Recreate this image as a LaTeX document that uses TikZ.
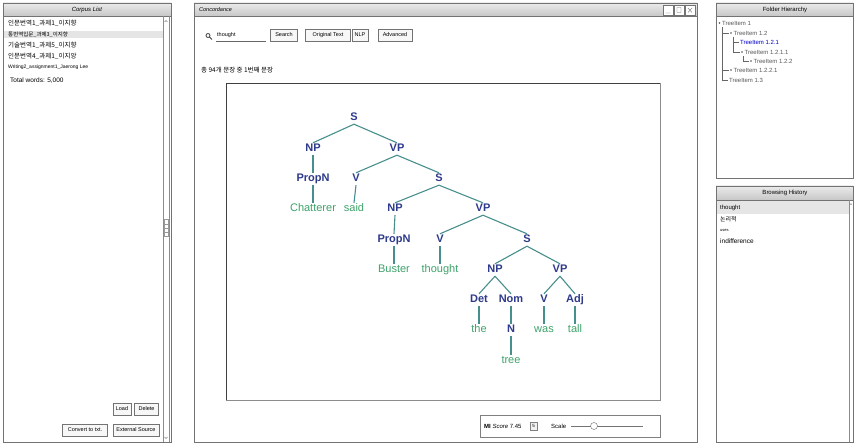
\documentclass[tikz,border=0pt]{standalone}
\usepackage{fontspec}
\setmainfont{Liberation Sans}
\newfontfamily\kr{Noto Sans CJK KR}
\usetikzlibrary{calc}
\definecolor{catblue}{HTML}{2E3A8C}
\definecolor{leafgreen}{HTML}{3FA36B}
\definecolor{branchteal}{HTML}{478F8C}
\tikzset{
  panel/.style={draw=black!55, line width=.6pt},
  titlebar/.style={draw=black!55, line width=.6pt, top color=black!8, bottom color=black!22},
  btn/.style={draw=black!55, fill=black!3, font=\fontsize{5.5}{6}\selectfont, inner sep=1pt, minimum height=12pt},
  ui/.style={font=\fontsize{6.5}{7}\selectfont, anchor=west, inner sep=0pt},
  fitem/.style={font=\fontsize{6}{7}\selectfont, text=black!65, anchor=west, inner sep=0pt},
  cat/.style={font=\fontsize{11}{12}\selectfont\bfseries, text=catblue, inner sep=1pt, text height=8pt, text depth=2pt},
  leaf/.style={font=\fontsize{11}{12}\selectfont, text=leafgreen, inner sep=1pt, text height=8pt, text depth=2pt},
  branch/.style={draw=branchteal, line width=1.1pt}
}
\begin{document}
\begin{tikzpicture}[x=1pt,y=-1pt]
\useasboundingbox[fill=white] (0,0) rectangle (855,443);
% corpus list
\draw[panel] (3,3) rectangle (171,442.5);
\draw[titlebar] (3,3) rectangle (171,16);
\node (corptitle) at (87,9.5) {\fontsize{6}{7}\selectfont\itshape Corpus List};
\fill[black!10] (4,31) rectangle (162.5,38);
\draw[black!45] (163,16) -- (163,442.5) (169,16) -- (169,442.5);
\draw[black!50] (164.5,22) -- (166,20.5) -- (167.5,22) (164.5,437) -- (166,438.5) -- (167.5,437);
\draw[black!40] (164,219) rectangle (168,236) (164.5,224) -- (167.5,224) (164.5,228) -- (167.5,228) (164.5,232) -- (167.5,232);
\node[ui] (corp1) at (8,23) {\kr\fontsize{6.5}{7}\selectfont 인문번역1\_과제1\_이지향};
\node[ui] (corp2) at (8,34.5) {\kr\fontsize{5.5}{6}\selectfont 통번역입문\_과제3\_이지향};
\node[ui] (corp3) at (8,45) {\kr\fontsize{6.5}{7}\selectfont 기술번역1\_과제5\_이지향};
\node[ui] (corp4) at (8,56) {\kr\fontsize{6.5}{7}\selectfont 인문번역4\_과제1\_이지앙};
\node[ui] (corp5) at (8,67.5) {\fontsize{5}{6}\selectfont Writing2\_assignment1\_Jaerong Lee};
\node[ui] (total) at (10,81) {Total words: 5,000};
\node[btn, minimum width=18pt] (load) at (122,409) {Load};
\node[btn, minimum width=24pt] (delete) at (146.5,409) {Delete};
\node[btn, minimum width=45pt] (convert) at (85,430) {Convert to txt.};
\node[btn, minimum width=46pt] (external) at (136,430) {External Source};
% concordance
\draw[panel] (194,3) rectangle (697,442.5);
\draw[titlebar] (194,3) rectangle (697,16);
\node[ui] (conctitle) at (199,9.5) {\fontsize{5.5}{6}\selectfont\itshape Concordance};
\foreach \x in {663,674,685} \draw[black!55, fill=white] (\x,5) rectangle (\x+10,15.5);
\draw[black!60] (665.5,13) -- (670.5,13) (677,7.5) rectangle (681,12.5) (688,8) -- (692,12.5) (692,8) -- (688,12.5);
\draw[black!75, line width=.8pt] (208,35.5) circle (2) (209.5,37) -- (212,39.5);
\node[ui] (query) at (217,35.5) {\fontsize{5.5}{6}\selectfont thought};
\draw[black!60] (216,41) -- (266,41);
\node[btn, minimum width=27pt] (search) at (284,35) {Search};
\node[btn, minimum width=45pt] (origtext) at (328,35) {Original Text};
\node[btn, minimum width=16pt] (nlp) at (360,35) {NLP};
\node[btn, minimum width=34pt] (advanced) at (395,35) {Advanced};
\node[ui] (count) at (201,70) {\kr\fontsize{6.5}{7}\selectfont 총 94개 문장 중 1번째 문장};
\draw[black!45, line width=.6pt] (226,83) rectangle (660,400);
\draw[black!75, line width=.9pt] (226,400) -- (226,83) -- (660,83);
% parse tree
\node[cat] (s1) at (354,118) {S};
\node[cat] (np1) at (313,149) {NP};
\node[cat] (vp1) at (397,149) {VP};
\node[cat] (propn1) at (313,179) {PropN};
\node[cat] (v1) at (356,179) {V};
\node[cat] (s2) at (439,179) {S};
\node[leaf] (chatterer) at (313,209) {Chatterer};
\node[leaf] (said) at (354,209) {said};
\node[cat] (np2) at (395,209) {NP};
\node[cat] (vp2) at (483,209) {VP};
\node[cat] (propn2) at (394,240) {PropN};
\node[cat] (v2) at (440,240) {V};
\node[cat] (s3) at (527,240) {S};
\node[leaf] (buster) at (394,270) {Buster};
\node[leaf] (thought) at (440,270) {thought};
\node[cat] (np3) at (495,270) {NP};
\node[cat] (vp3) at (560,270) {VP};
\node[cat] (det) at (479,300) {Det};
\node[cat] (nom) at (511,300) {Nom};
\node[cat] (v3) at (544,300) {V};
\node[cat] (adj) at (575,300) {Adj};
\node[leaf] (the) at (479,330) {the};
\node[cat] (n1) at (511,330) {N};
\node[leaf] (was) at (544,330) {was};
\node[leaf] (tall) at (575,330) {tall};
\node[leaf] (tree) at (511,361) {tree};
\foreach \a/\b in {s1/np1,s1/vp1,np1/propn1,propn1/chatterer,vp1/v1,vp1/s2,v1/said,s2/np2,s2/vp2,np2/propn2,propn2/buster,vp2/v2,vp2/s3,v2/thought,s3/np3,s3/vp3,np3/det,np3/nom,det/the,nom/n1,n1/tree,vp3/v3,vp3/adj,v3/was,adj/tall}
  \draw[branch] (\a.south) -- (\b.north);
% score bar
\draw[black!50, line width=.6pt] (480,415) rectangle (660,437);
\node[ui] (score) at (484,426) {\fontsize{6}{7}\selectfont\textbf{MI} \textit{Score} 7.45};
\node[draw=black!50, fill=black!5, inner sep=1pt, minimum width=7pt, minimum height=8pt, font=\fontsize{4.5}{5}\selectfont] (scorebtn) at (533.5,426) {5};
\node[ui] (scale) at (551,426) {\fontsize{6}{7}\selectfont Scale};
\coordinate (slidea) at (571,426);
\coordinate (slideb) at (643,426);
\draw[black!55, line width=.7pt] (slidea) -- (slideb);
\draw[black!60, fill=white] (594,426) circle (3.5);
% folder hierarchy
\draw[panel] (716,3) rectangle (853,178);
\draw[titlebar] (716,3) rectangle (853,16);
\node (foldtitle) at (785,9.5) {\fontsize{6}{7}\selectfont Folder Hierarchy};
\draw[black!60] (722,27) -- (722,80) -- (728,80) (722,33) -- (729,33) (722,70) -- (729,70);
\draw[black!60] (733,37) -- (733,52) -- (740,52) (733,42) -- (739,42) (743,56) -- (743,61) -- (749,61);
\foreach \x/\y in {719.5/23,731/33,742/52,751/61,731/70} \fill[black!70] (\x,\y) circle (.9);
\node[fitem] (item1) at (722,23) {TreeItem 1};
\node[fitem] (item12) at (733.5,33) {TreeItem 1.2};
\node[fitem, text=blue!80!black] (item121) at (740,42) {TreeItem 1.2.1};
\node[fitem] (item1211) at (744.5,52) {TreeItem 1.2.1.1};
\node[fitem] (item122) at (753.5,61) {TreeItem 1.2.2};
\node[fitem] (item1221) at (733.5,70) {TreeItem 1.2.2.1};
\node[fitem] (item13) at (729,80) {TreeItem 1.3};
% browsing history
\draw[panel] (716,186) rectangle (853,442.5);
\draw[titlebar] (716,186) rectangle (853,200);
\node (histtitle) at (785,193) {\fontsize{6}{7}\selectfont Browsing History};
\fill[black!10] (717,201) rectangle (849,214);
\draw[black!45] (849,200) -- (849,442.5);
\draw[black!50] (850,205) -- (851,203.5) -- (852,205);
\node[ui] (hist1) at (720,208) {\fontsize{6}{7}\selectfont thought};
\node[ui] (hist2) at (720,219.5) {\kr\fontsize{6}{7}\selectfont 논리적};
\node[ui] (hist3) at (720,230.5) {\fontsize{4}{5}\selectfont uses};
\node[ui] (hist4) at (720,241) {\fontsize{6.5}{7}\selectfont indifference};
\end{tikzpicture}
\end{document}
